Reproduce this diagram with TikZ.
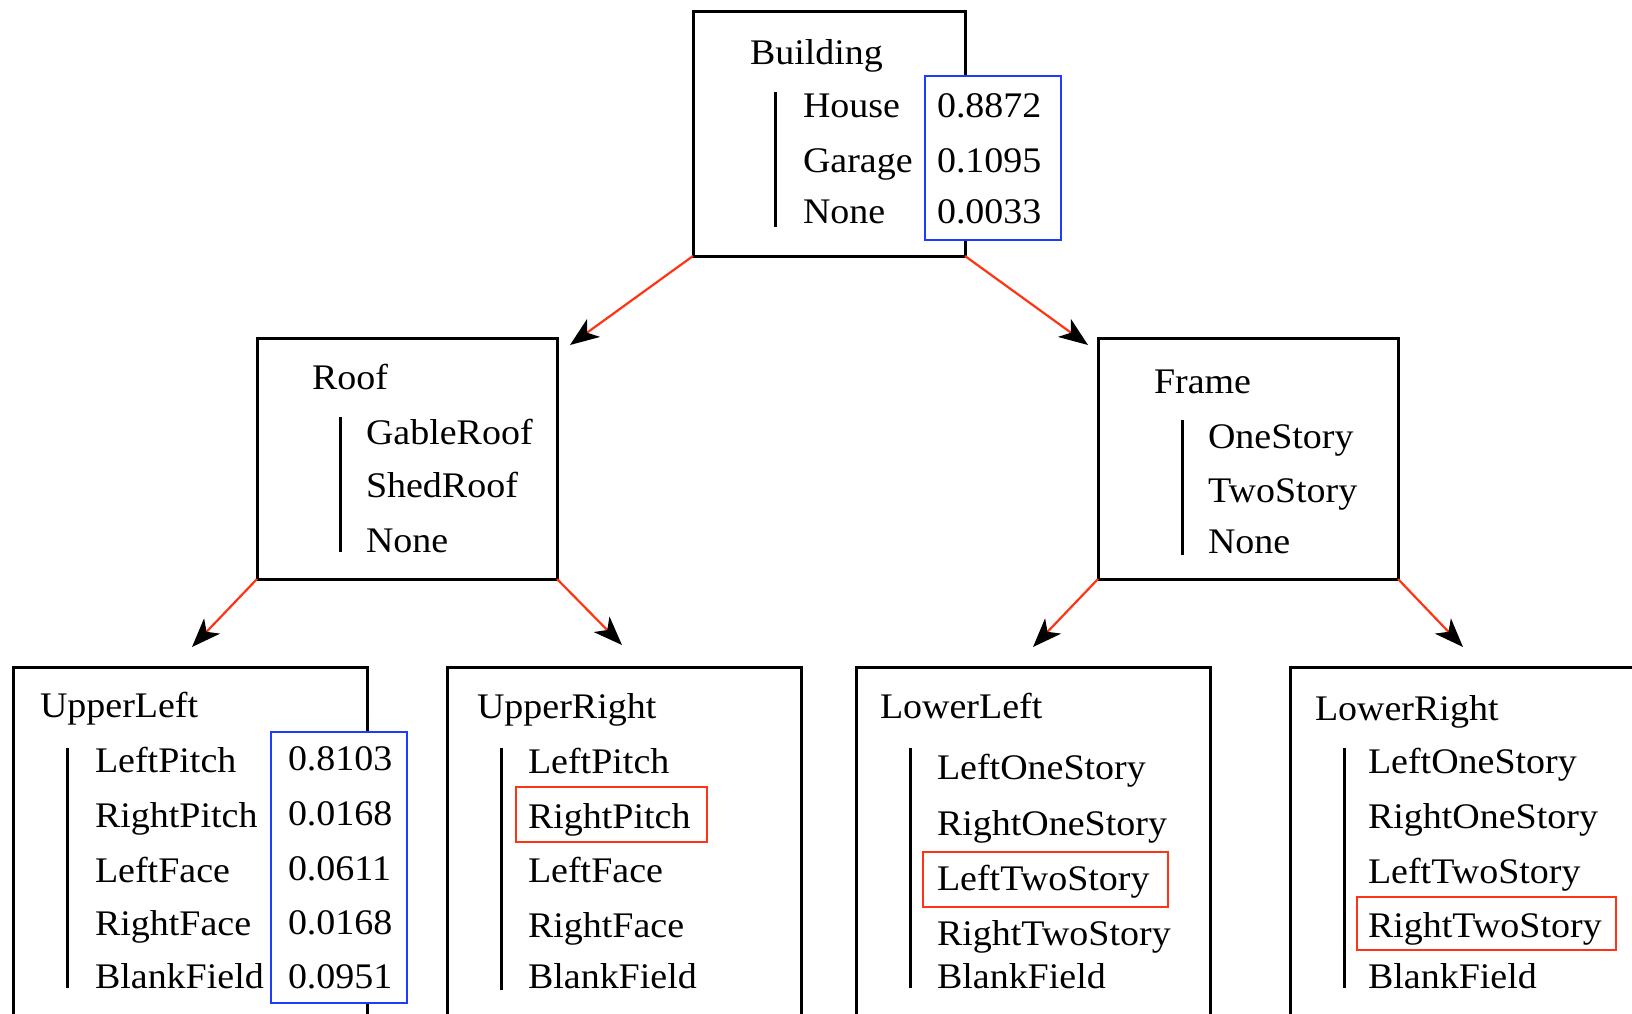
\documentclass[tikz,border=0pt]{standalone}
\usepackage{fontspec}
\setmainfont[FakeStretch=1.055]{Liberation Serif}
\usetikzlibrary{arrows.meta}

\definecolor{linkred}{RGB}{255,52,20}
\definecolor{probblue}{RGB}{30,60,255}

\tikzset{
  panel/.style={draw=black, line width=3pt, rectangle, inner sep=0pt, outer sep=0pt, fill=white},
  probbox/.style={draw=probblue, line width=2.6pt, rectangle, inner sep=0pt, outer sep=0pt, fill=white},
  pickbox/.style={draw=linkred, line width=2.2pt, rectangle, inner sep=0pt, outer sep=0pt},
  label/.style={anchor=base west, inner sep=0pt, outer sep=0pt,
    font=\fontsize{36}{40}\selectfont},
  bar/.style={draw=black, line width=3pt},
  link/.style={draw=linkred, line width=2.2pt,
    arrows={-Stealth[black, length=29pt, width=22pt, inset=8pt]}},
}

\begin{document}
\begin{tikzpicture}[x=1pt, y=-1pt]
\useasboundingbox (0,0) rectangle (1632,1013);
\clip (0,0) rectangle (1632,1013);

% ---- frames of the parts ----
\node[panel, minimum width=272pt, minimum height=245pt] (building) at (829,133.5) {};
\node[panel, minimum width=300pt, minimum height=241pt] (roof) at (407,458.5) {};
\node[panel, minimum width=300pt, minimum height=241pt] (frame) at (1248,458.5) {};
\node[panel, minimum width=354pt, minimum height=373pt] (upleft) at (190,853.5) {};
\node[panel, minimum width=354pt, minimum height=373pt] (upright) at (624,853.5) {};
\node[panel, minimum width=354pt, minimum height=373pt] (lowleft) at (1033,853.5) {};
\node[panel, minimum width=354pt, minimum height=373pt] (lowright) at (1467,853.5) {};

% ---- probability columns ----
\node[probbox, minimum width=136pt, minimum height=164pt] (probtop) at (993,158) {};
\node[probbox, minimum width=136pt, minimum height=271pt] (probul) at (339,867.5) {};

% ---- chosen labels ----
\node[pickbox, minimum width=191pt, minimum height=55pt] (pickur) at (611.5,814.5) {};
\node[pickbox, minimum width=245pt, minimum height=55pt] (pickll) at (1045.5,879.5) {};
\node[pickbox, minimum width=259pt, minimum height=53pt] (picklr) at (1486.5,923.5) {};

% ---- arrow ends ----
\coordinate (roofin) at (570,345);
\coordinate (framein) at (1088,345);
\coordinate (ulin) at (192,647);
\coordinate (urin) at (622,645);
\coordinate (llin) at (1033,647);
\coordinate (lrin) at (1463,647);

\draw[link] (building.south west) -- (roofin);
\draw[link] (building.south east) -- (framein);
\draw[link] (roof.south west) -- (ulin);
\draw[link] (roof.south east) -- (urin);
\draw[link] (frame.south west) -- (llin);
\draw[link] (frame.south east) -- (lrin);

% ---- Building ----
\node[label] (t-building) at (750,64) {Building};
\draw[bar] (775,92) -- (775,227);
\node[label] (t-house) at (803,117) {House};
\node[label] (t-garage) at (803,172) {Garage};
\node[label] (t-bnone) at (803,223) {None};
\node[label] (p-house) at (937,117) {0.8872};
\node[label] (p-garage) at (937,172) {0.1095};
\node[label] (p-bnone) at (937,223) {0.0033};

% ---- Roof ----
\node[label] (t-roof) at (312,389) {Roof};
\draw[bar] (340,417) -- (340,552);
\node[label] (t-gable) at (366,444) {GableRoof};
\node[label] (t-shed) at (366,497) {ShedRoof};
\node[label] (t-rnone) at (366,552) {None};

% ---- Frame ----
\node[label] (t-frame) at (1154,393) {Frame};
\draw[bar] (1182,420) -- (1182,555);
\node[label] (t-one) at (1208,448) {OneStory};
\node[label] (t-two) at (1208,502) {TwoStory};
\node[label] (t-fnone) at (1208,553) {None};

% ---- UpperLeft ----
\node[label] (t-ul) at (40,717) {UpperLeft};
\draw[bar] (67,748) -- (67,988);
\node[label] (ul1) at (95,772) {LeftPitch};
\node[label] (ul2) at (95,827) {RightPitch};
\node[label] (ul3) at (95,882) {LeftFace};
\node[label] (ul4) at (95,935) {RightFace};
\node[label] (ul5) at (95,988) {BlankField};
\node[label] (pu1) at (288,770) {0.8103};
\node[label] (pu2) at (288,825) {0.0168};
\node[label] (pu3) at (288,880) {0.0611};
\node[label] (pu4) at (288,934) {0.0168};
\node[label] (pu5) at (288,988) {0.0951};

% ---- UpperRight ----
\node[label] (t-ur) at (477,718) {UpperRight};
\draw[bar] (501,748) -- (501,990);
\node[label] (ur1) at (528,773) {LeftPitch};
\node[label] (ur2) at (528,828) {RightPitch};
\node[label] (ur3) at (528,882) {LeftFace};
\node[label] (ur4) at (528,937) {RightFace};
\node[label] (ur5) at (528,988) {BlankField};

% ---- LowerLeft ----
\node[label] (t-ll) at (880,718) {LowerLeft};
\draw[bar] (910,748) -- (910,988);
\node[label] (ll1) at (937,779) {LeftOneStory};
\node[label] (ll2) at (937,835) {RightOneStory};
\node[label] (ll3) at (937,890) {LeftTwoStory};
\node[label] (ll4) at (937,945) {RightTwoStory};
\node[label] (ll5) at (937,988) {BlankField};

% ---- LowerRight ----
\node[label] (t-lr) at (1315,720) {LowerRight};
\draw[bar] (1344,748) -- (1344,988);
\node[label] (lr1) at (1368,773) {LeftOneStory};
\node[label] (lr2) at (1368,828) {RightOneStory};
\node[label] (lr3) at (1368,883) {LeftTwoStory};
\node[label] (lr4) at (1368,937) {RightTwoStory};
\node[label] (lr5) at (1368,988) {BlankField};
\end{tikzpicture}
\end{document}
